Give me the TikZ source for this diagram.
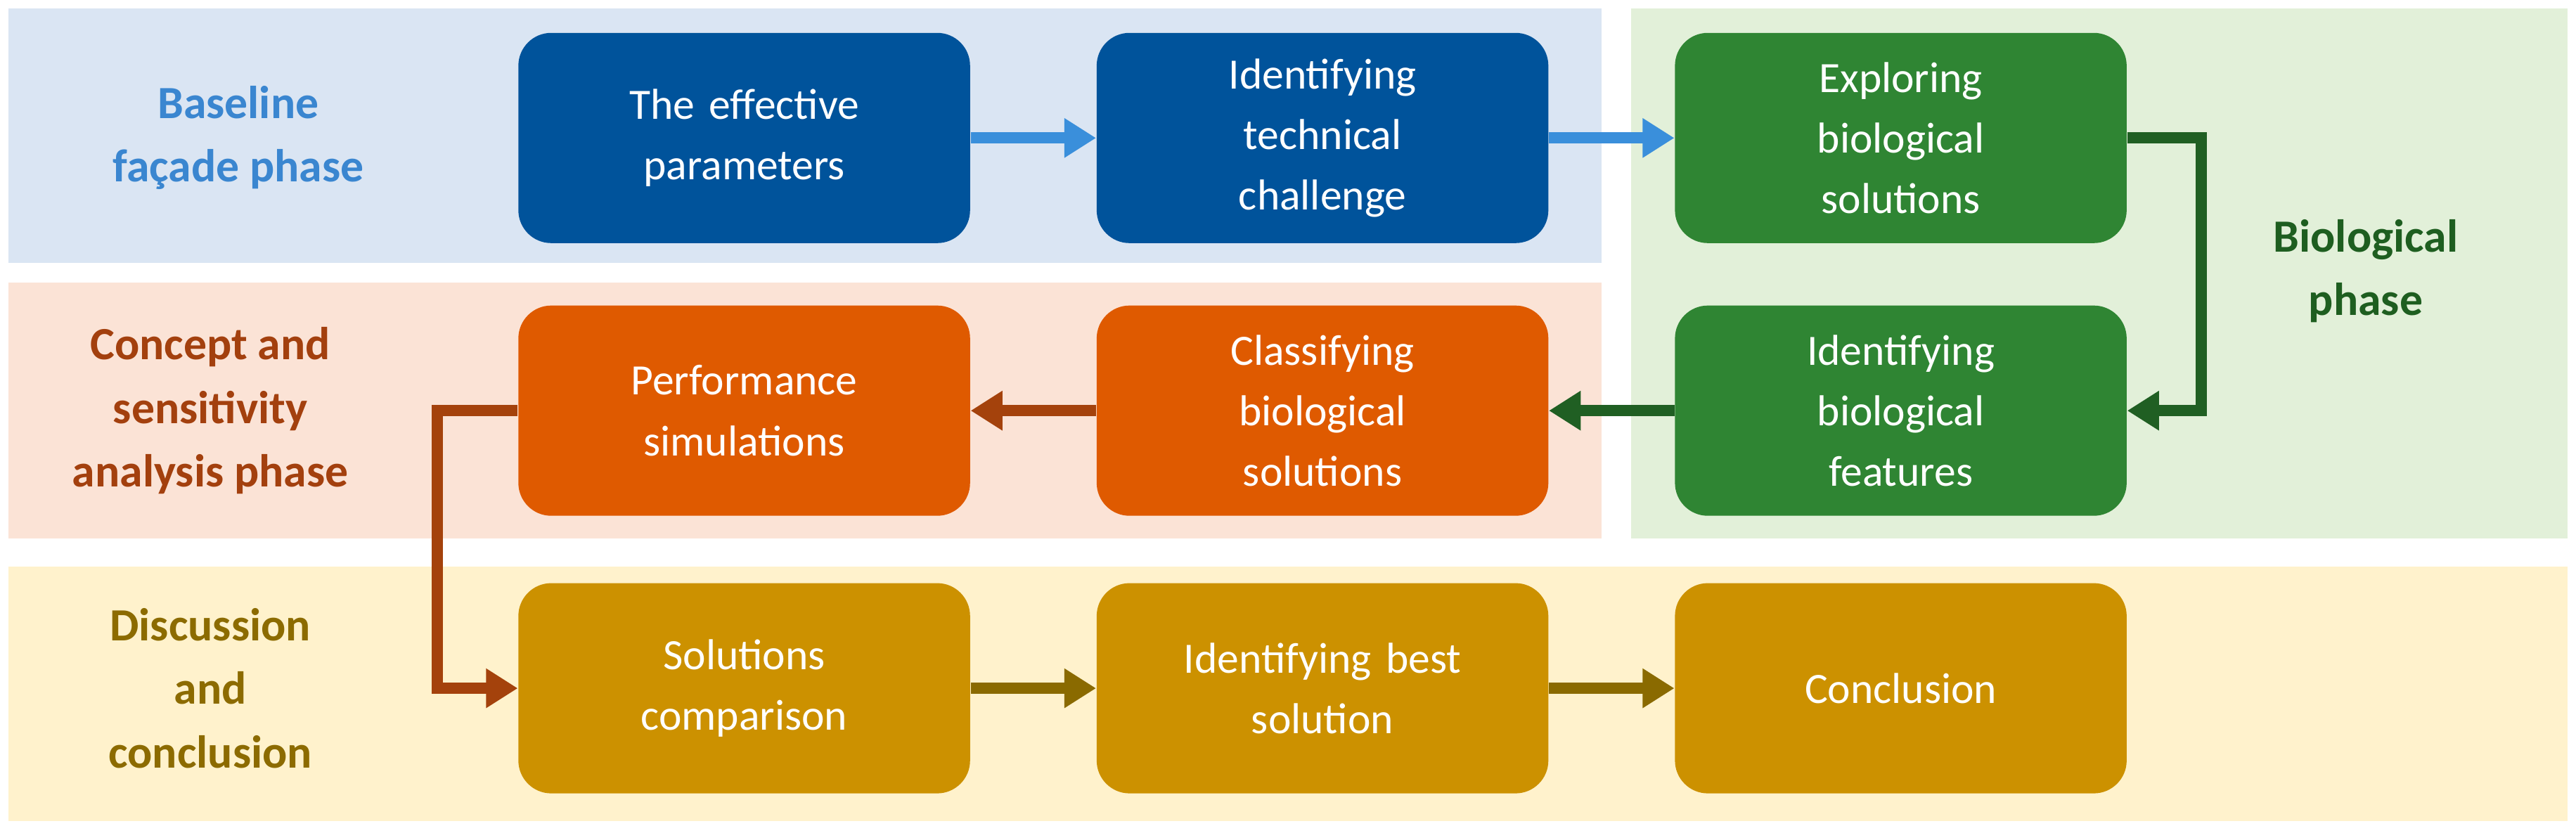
\documentclass[tikz,border=0pt]{standalone}
\usepackage{fontspec}
\setmainfont{Carlito}
\usetikzlibrary{arrows.meta}
\definecolor{bandB}{HTML}{DAE5F3}
\definecolor{bandG}{HTML}{E2F0D9}
\definecolor{bandO}{HTML}{FBE3D6}
\definecolor{bandY}{HTML}{FFF2CC}
\definecolor{boxB}{HTML}{00539B}
\definecolor{boxG}{HTML}{2F8533}
\definecolor{boxO}{HTML}{DF5A00}
\definecolor{boxY}{HTML}{CC9100}
\definecolor{arrB}{HTML}{3A8FDB}
\definecolor{arrG}{HTML}{205F23}
\definecolor{arrO}{HTML}{A4420C}
\definecolor{arrY}{HTML}{8A6A00}
\definecolor{labB}{HTML}{3A86D0}
\definecolor{labG}{HTML}{1E5E20}
\definecolor{labO}{HTML}{A3400E}
\definecolor{labY}{HTML}{8C6B00}
\begin{document}
\begin{tikzpicture}[x=0.02cm,y=-0.02cm,
 box/.style={rounded corners=0.4cm,minimum width=5.5cm,minimum height=2.56cm,text width=5cm,align=center,text=white,font=\fontsize{15}{21}\selectfont},
 lab/.style={align=center,font=\fontsize{16}{22}\selectfont\bfseries},
 arr/.style={line width=4pt,-{Triangle[length=11pt,width=13pt]}}]
\useasboundingbox (0,0) rectangle (1568,507);
\fill[bandB] (5,5) rectangle (975,160);
\fill[bandG] (993,5) rectangle (1563,328);
\fill[bandO] (5,172) rectangle (975,328);
\fill[bandY] (5,345) rectangle (1563,500);
\node[lab,text=labB] (l1) at (145,84) {Baseline\\façade phase};
\node[lab,text=labG] (l2) at (1440,165) {Biological\\phase};
\node[lab,text=labO] (l3) at (128,250) {Concept and\\sensitivity\\analysis phase};
\node[lab,text=labY] (l4) at (128,419) {Discussion\\and\\conclusion};
\node[box,fill=boxB] (a1) at (453,84) {The effective\\parameters};
\node[box,fill=boxB] (a2) at (805,84) {Identifying\\technical\\challenge};
\node[box,fill=boxG] (a3) at (1157,84) {Exploring\\biological\\solutions};
\node[box,fill=boxG] (b3) at (1157,250) {Identifying\\biological\\features};
\node[box,fill=boxO] (b2) at (805,250) {Classifying\\biological\\solutions};
\node[box,fill=boxO] (b1) at (453,250) {Performance\\simulations};
\node[box,fill=boxY] (c1) at (453,419) {Solutions\\comparison};
\node[box,fill=boxY] (c2) at (805,419) {Identifying best\\solution};
\node[box,fill=boxY] (c3) at (1157,419) {Conclusion};
\draw[arr,arrB] (a1) -- (a2);
\draw[arr,arrB] (a2) -- (a3);
\draw[arr,arrG] (a3.east) -- ++(45,0) |- (b3.east);
\draw[arr,arrG] (b3) -- (b2);
\draw[arr,arrO] (b2) -- (b1);
\draw[arr,arrO] (b1.west) -- ++(-49,0) |- (c1.west);
\draw[arr,arrY] (c1) -- (c2);
\draw[arr,arrY] (c2) -- (c3);
\end{tikzpicture}
\end{document}
